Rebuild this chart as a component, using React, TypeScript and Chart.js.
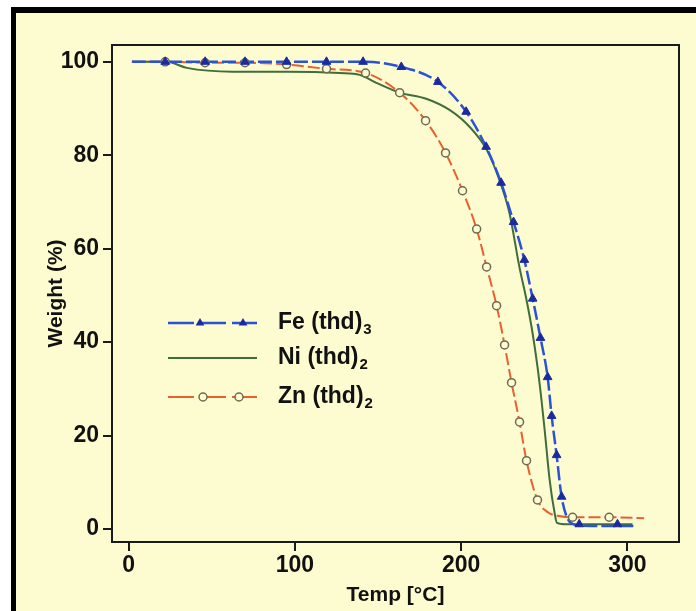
import React, { useEffect, useRef } from 'react';
import { Chart, registerables } from 'chart.js';

Chart.register(...registerables);

// ---- data ----
const xTicks = [0, 100, 200, 300];
const yTicks = [0, 20, 40, 60, 80, 100];
const seriesNames = ['Fe (thd)', 'Ni (thd)', 'Zn (thd)'];
const seriesSubs = ['3', '2', '2'];

// Fe (thd)3 – curve
const feTemp = [2, 22, 46, 70, 95, 119, 141, 164, 186, 203, 215, 224, 231.5, 238, 243, 247.7, 252, 254.4, 257.4, 260.4, 264, 267.5, 271, 294, 304];
const feWeight = [100, 100, 100, 100, 100, 100, 100, 98.9, 95.7, 89.3, 81.8, 74.1, 65.7, 57.6, 49.3, 40.9, 32.5, 24.2, 15.8, 6.9, 2.2, 1.0, 0.7, 0.6, 0.6];
// Fe (thd)3 – triangle markers
const feMarkTemp = [22, 46, 70, 95, 119, 141, 164, 186, 203, 215, 224, 231.5, 238, 243, 247.7, 252, 254.4, 257.4, 260.4, 271, 294];
const feMarkWeight = [100, 100, 100, 100, 100, 100, 98.9, 95.7, 89.3, 81.8, 74.1, 65.7, 57.6, 49.3, 40.9, 32.5, 24.2, 15.8, 6.9, 1.0, 1.0];

// Ni (thd)2 – curve
const niTemp = [2, 22.8, 35, 62.5, 95, 127, 139, 149, 163, 179, 193, 205, 215.3, 223, 229, 235, 239.3, 242.9, 245.9, 248.3, 250.2, 253.2, 256.2, 257.6, 263, 303];
const niWeight = [100, 100, 98.7, 97.9, 97.9, 97.6, 97.2, 95.5, 93.4, 92.1, 89.7, 86.1, 81.2, 74.7, 67.7, 56.1, 49, 42, 34.7, 27.6, 21.2, 10.5, 3.4, 1.3, 1.0, 1.0];

// Zn (thd)2 – curve
const znTemp = [2, 22, 46, 70, 95, 119, 142.5, 163, 178.6, 190.6, 200.8, 209.3, 215.3, 221.3, 226.1, 230.3, 235.1, 239.3, 245.9, 252, 258, 267, 289, 310];
const znWeight = [100, 100, 99.8, 99.8, 99.4, 98.5, 97.6, 93.4, 87.4, 80.5, 72.4, 64.2, 56.1, 47.8, 39.4, 31.3, 22.9, 14.6, 6.2, 3.6, 2.8, 2.5, 2.5, 2.3];
// Zn (thd)2 – circle markers
const znMarkTemp = [22, 46, 70, 95, 119, 142.5, 163, 178.6, 190.6, 200.8, 209.3, 215.3, 221.3, 226.1, 230.3, 235.1, 239.3, 245.9, 267, 289];
const znMarkWeight = [100, 99.8, 99.8, 99.4, 98.5, 97.6, 93.4, 87.4, 80.5, 72.4, 64.2, 56.1, 47.8, 39.4, 31.3, 22.9, 14.6, 6.2, 2.5, 2.5];

// ---- styles ----
const CREAM = '#fdfbd0';
const FE_LINE = '#2a52d4';
const FE_MARK = '#1b2b9e';
const NI_LINE = '#3f6d3b';
const ZN_LINE = '#e8602f';
const ZN_MARK = '#6e6b52';
const AXIS = '#1a1a1a';
const FONT = 'Arial, "Liberation Sans", Helvetica, sans-serif';

const pts = (xs: number[], ys: number[]) => xs.map((x, i) => ({ x, y: ys[i] }));

function drawTri(ctx: CanvasRenderingContext2D, x: number, y: number, r: number) {
  const h = r * 1.5;
  const w = r * Math.sqrt(3) / 2 * 2;
  ctx.beginPath();
  ctx.moveTo(x, y - r);
  ctx.lineTo(x + w / 2, y - r + h);
  ctx.lineTo(x - w / 2, y - r + h);
  ctx.closePath();
  ctx.fillStyle = FE_MARK;
  ctx.fill();
}

function drawCirc(ctx: CanvasRenderingContext2D, x: number, y: number, r: number) {
  ctx.beginPath();
  ctx.arc(x, y, r, 0, Math.PI * 2);
  ctx.fillStyle = CREAM;
  ctx.fill();
  ctx.lineWidth = 1.5;
  ctx.strokeStyle = ZN_MARK;
  ctx.stroke();
}

const boxPlugin = {
  id: 'box',
  afterDraw(chart: any) {
    const { ctx, chartArea: a } = chart;
    ctx.save();
    ctx.strokeStyle = AXIS;
    ctx.lineWidth = 2;
    ctx.beginPath();
    ctx.moveTo(a.left - 1, a.top);
    ctx.lineTo(a.right, a.top);
    ctx.lineTo(a.right, a.bottom + 1);
    ctx.stroke();
    ctx.restore();
  },
};

const legendPlugin = {
  id: 'innerLegend',
  afterDraw(chart: any) {
    const { ctx, chartArea: a } = chart;
    const x0 = a.left + 56;
    const x1 = a.left + 145;
    const tx = a.left + 166;
    const ys = [a.top + 278, a.top + 313, a.top + 352];
    ctx.save();
    // Fe
    ctx.lineWidth = 2.5;
    ctx.strokeStyle = FE_LINE;
    ctx.setLineDash([26, 6]);
    ctx.beginPath();
    ctx.moveTo(x0, ys[0]);
    ctx.lineTo(x1, ys[0]);
    ctx.stroke();
    drawTri(ctx, x0 + 32, ys[0], 5);
    drawTri(ctx, x0 + 75, ys[0], 5);
    // Ni
    ctx.setLineDash([]);
    ctx.lineWidth = 2;
    ctx.strokeStyle = NI_LINE;
    ctx.beginPath();
    ctx.moveTo(x0, ys[1]);
    ctx.lineTo(x1, ys[1]);
    ctx.stroke();
    // Zn
    ctx.strokeStyle = ZN_LINE;
    ctx.lineWidth = 2;
    ctx.setLineDash([26, 6]);
    ctx.beginPath();
    ctx.moveTo(x0, ys[2]);
    ctx.lineTo(x1, ys[2]);
    ctx.stroke();
    ctx.setLineDash([]);
    drawCirc(ctx, x0 + 35, ys[2], 4);
    drawCirc(ctx, x0 + 71, ys[2], 4);
    // text
    ctx.fillStyle = '#111';
    ctx.textBaseline = 'middle';
    ctx.textAlign = 'left';
    seriesNames.forEach((name, i) => {
      ctx.font = `bold 23px ${FONT}`;
      ctx.fillText(name, tx, ys[i]);
      const w = ctx.measureText(name).width;
      ctx.font = `bold 15px ${FONT}`;
      ctx.fillText(seriesSubs[i], tx + w + 1, ys[i] + 7);
    });
    ctx.restore();
  },
};

export default function App() {
  const ref = useRef<HTMLCanvasElement>(null);
  useEffect(() => {
    const chart = new Chart(ref.current!, {
      type: 'line',
      data: {
        datasets: [
          {
            label: 'Fe markers',
            data: pts(feMarkTemp, feMarkWeight),
            showLine: false,
            pointStyle: 'triangle',
            pointRadius: 5,
            backgroundColor: FE_MARK,
            borderColor: FE_MARK,
            pointBorderWidth: 1,
            order: 1,
          },
          {
            label: 'Zn markers',
            data: pts(znMarkTemp, znMarkWeight),
            showLine: false,
            pointStyle: 'circle',
            pointRadius: 4,
            backgroundColor: CREAM,
            borderColor: ZN_MARK,
            pointBorderWidth: 1.5,
            order: 1,
          },
          {
            label: 'Fe (thd)3',
            data: pts(feTemp, feWeight),
            borderColor: FE_LINE,
            borderWidth: 2.5,
            borderDash: [14, 4],
            pointRadius: 0,
            cubicInterpolationMode: 'monotone',
            order: 2,
          },
          {
            label: 'Ni (thd)2',
            data: pts(niTemp, niWeight),
            borderColor: NI_LINE,
            borderWidth: 2,
            pointRadius: 0,
            cubicInterpolationMode: 'monotone',
            order: 3,
          },
          {
            label: 'Zn (thd)2',
            data: pts(znTemp, znWeight),
            borderColor: ZN_LINE,
            borderWidth: 2,
            borderDash: [12, 4],
            pointRadius: 0,
            cubicInterpolationMode: 'monotone',
            order: 4,
          },
        ],
      },
      options: {
        animation: false,
        responsive: false,
        devicePixelRatio: 1,
        layout: { padding: { left: 0, top: 45, right: 17, bottom: 0 } },
        plugins: { legend: { display: false }, tooltip: { enabled: false } },
        scales: {
          x: {
            type: 'linear',
            min: -10,
            max: 331,
            afterBuildTicks: (s: any) => { s.ticks = xTicks.map((v) => ({ value: v })); },
            afterFit: (s: any) => { s.height = 69; },
            grid: { drawOnChartArea: false, drawTicks: true, tickLength: 9, color: AXIS, lineWidth: 2 },
            border: { display: true, color: AXIS, width: 2 },
            ticks: { color: '#111', font: { family: FONT, size: 23, weight: 'bold', lineHeight: 1 }, padding: 3, maxRotation: 0 },
            title: { display: true, text: 'Temp [°C]', color: '#111', font: { family: FONT, size: 21, weight: 'bold', lineHeight: 1 }, padding: { top: 0, bottom: 5 } },
          },
          y: {
            type: 'linear',
            min: -2.8,
            max: 103.6,
            afterBuildTicks: (s: any) => { s.ticks = yTicks.map((v) => ({ value: v })); },
            afterFit: (s: any) => { s.width = 112; },
            grid: { drawOnChartArea: false, drawTicks: true, tickLength: 9, color: AXIS, lineWidth: 2 },
            border: { display: true, color: AXIS, width: 2 },
            ticks: { color: '#111', font: { family: FONT, size: 23, weight: 'bold', lineHeight: 1 }, padding: 4 },
            title: { display: true, text: 'Weight (%)', color: '#111', font: { family: FONT, size: 21, weight: 'bold', lineHeight: 1 }, padding: { top: 46, bottom: 0 } },
          },
        },
      } as any,
      plugins: [boxPlugin, legendPlugin],
    } as any);
    return () => chart.destroy();
  }, []);
  return (
    <div style={{ position: 'fixed', left: 0, top: 0, width: 696, height: 611, background: '#fff', overflow: 'hidden' }}>
      <div style={{ position: 'absolute', left: 11, top: 7, width: 700, height: 620, borderLeft: '5px solid #000', borderTop: '6px solid #000', background: CREAM }} />
      <canvas ref={ref} width={696} height={611} style={{ position: 'absolute', left: 0, top: 0, width: 696, height: 611 }} />
    </div>
  );
}
